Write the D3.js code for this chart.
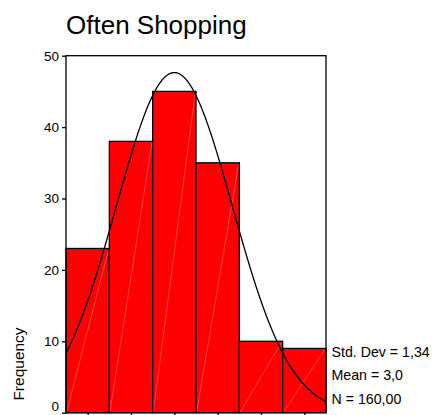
<!DOCTYPE html>
<html><head><meta charset="utf-8">
<script src="https://cdn.jsdelivr.net/npm/d3@7"></script>
<style>
html,body{margin:0;padding:0;background:#fff;}
svg{display:block;font-family:"Liberation Sans",Arial,sans-serif;}
</style></head>
<body><svg id="c" width="433" height="415"></svg>
<script>
const title = "Often Shopping";
const binCenters = [1, 2, 3, 4, 5, 6];
const counts = [23, 38, 45, 35, 10, 9];
const yTicks = [0, 10, 20, 30, 40, 50];
const statLabels = ["Std. Dev = 1,34", "Mean = 3,0", "N = 160,00"];
const stdDev = 1.34, mean = 3.0, nTotal = 160, binWidth = 1;

const svg = d3.select("#c");
const L = 66, R = 326, T = 55.7, B = 412.7;
const x = d3.scaleLinear().domain([0.5, 6.5]).range([L, R]);
const y = d3.scaleLinear().domain([0, 50]).range([B, T]);

svg.append("text").attr("x", 66).attr("y", 34.3).attr("font-size", 26).attr("fill", "#000").text(title);

// bars
const g = svg.append("g");
binCenters.forEach((c, i) => {
  const x0 = x(c - binWidth/2), x1 = x(c + binWidth/2), yt = y(counts[i]);
  g.append("rect").attr("x", x0).attr("y", yt).attr("width", x1 - x0).attr("height", B - yt)
    .attr("fill", "#ff0000").attr("stroke", "none");
  g.append("line").attr("x1", x0 + 0.5).attr("y1", B).attr("x2", x1 - 0.5).attr("y2", yt)
    .attr("stroke", "#ff8080").attr("stroke-width", 0.5);
  g.append("rect").attr("x", x0).attr("y", yt).attr("width", x1 - x0).attr("height", B - yt)
    .attr("fill", "none").attr("stroke", "#000").attr("stroke-width", 1.3);
});

// normal curve
const pts = d3.range(0.5, 6.5001, 0.02).map(v => [v, nTotal * binWidth / (stdDev * Math.sqrt(2*Math.PI)) * Math.exp(-0.5*Math.pow((v-mean)/stdDev, 2))]);
svg.append("path").datum(pts).attr("fill", "none").attr("stroke", "#000").attr("stroke-width", 1.3)
  .attr("d", d3.line().x(d => x(d[0])).y(d => y(d[1])));

// frame
svg.append("rect").attr("x", L).attr("y", T).attr("width", R - L).attr("height", B - T)
  .attr("fill", "none").attr("stroke", "#000").attr("stroke-width", 1.3);

// y axis
const ya = svg.append("g").attr("transform", `translate(${L},0)`)
  .call(d3.axisLeft(y).tickValues(yTicks).tickSize(4).tickPadding(3).tickFormat(d3.format("d")));
ya.select(".domain").remove();
ya.selectAll("line").attr("stroke", "#000").attr("stroke-width", 1.3);
ya.selectAll("text").attr("font-size", 13.5).attr("font-family", "Liberation Sans, Arial, sans-serif").attr("fill", "#000");
ya.selectAll(".tick").filter(d => d === 0).select("text").attr("dy", "-0.15em");

// x axis ticks
const xa = svg.append("g").attr("transform", `translate(0,${B})`)
  .call(d3.axisBottom(x).tickValues(binCenters).tickSize(4).tickFormat(""));
xa.select(".domain").remove();
xa.selectAll("line").attr("stroke", "#000").attr("stroke-width", 1.3);

// y label
svg.append("text").attr("transform", "translate(23.5,364) rotate(-90)").attr("text-anchor", "middle")
  .attr("font-size", 15.5).attr("fill", "#000").text("Frequency");

// stats
statLabels.forEach((s, i) => {
  svg.append("text").attr("x", 331.5).attr("y", 356.7 + i * 23.7).attr("font-size", 14.2).attr("fill", "#000").text(s);
});
</script></body></html>
